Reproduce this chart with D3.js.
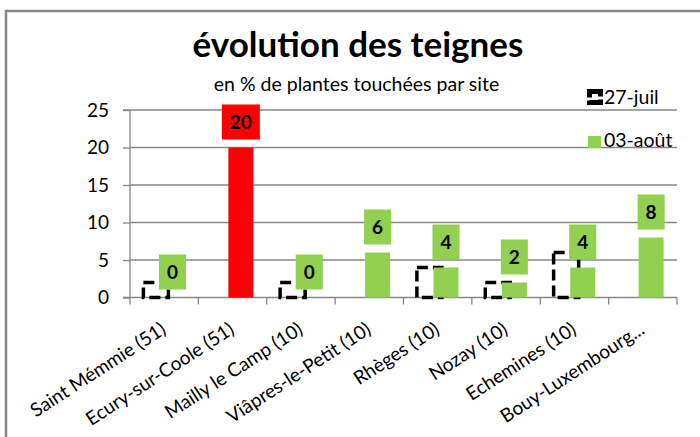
<!DOCTYPE html>
<html>
<head>
<meta charset="utf-8">
<script src="https://cdn.jsdelivr.net/npm/d3@7"></script>
<style>
    body { margin: 0; background: #fff; }
    svg { font-family: Lato, "Open Sans", sans-serif; }
</style>
</head>
<body>
<div class="chart"></div>
<script>
// Data
const sites = ['Saint Mémmie (51)', 'Ecury-sur-Coole (51)', 'Mailly le Camp (10)', 'Viâpres-le-Petit (10)',
    'Rhèges (10)', 'Nozay (10)', 'Echemines (10)', 'Bouy-Luxembourg...'];
const seriesNames = ['27-juil', '03-août'];
const juil = [2, 0, 2, 0, 4, 2, 6, 0];
const aout = [0, 20, 0, 6, 4, 2, 4, 8];
const highlight = [false, true, false, false, false, false, false, false];
const yTicks = [0, 5, 10, 15, 20, 25];

const width = 700;
const height = 437;
const plot = {left: 130, right: 677, top: 110, bottom: 297.5};
const green = '#92D050';
const red = '#FF0000';
const grid = '#878787';

const svg = d3.select('.chart')
    .append('svg')
    .attr('width', width)
    .attr('height', height);

// Frame
svg.append('rect')
    .attr('x', 6).attr('y', 11)
    .attr('width', 720).attr('height', 460)
    .attr('fill', 'none')
    .attr('stroke', '#888')
    .attr('stroke-width', 2.5);

// Scales
const x = d3.scaleBand()
    .domain(sites)
    .range([plot.left, plot.right])
    .padding(0);

const xs = d3.scalePoint()
    .domain(seriesNames)
    .range([-8.3, 8.3]);

const barW = 25;
const cx = (site, s) => x(site) + x.bandwidth() / 2 + xs(s);

const y = d3.scaleLinear()
    .domain([0, 25])
    .range([plot.bottom, plot.top]);

// Gridlines
svg.append('g')
    .selectAll('line')
    .data(yTicks.filter(d => d > 0))
    .join('line')
    .attr('x1', plot.left).attr('x2', plot.right)
    .attr('y1', d => y(d)).attr('y2', d => y(d))
    .attr('stroke', grid)
    .attr('stroke-width', 1.3);

// Y axis
const yAxis = svg.append('g')
    .attr('transform', `translate(${plot.left},0)`)
    .call(d3.axisLeft(y).tickValues(yTicks).tickSize(7).tickPadding(14));
yAxis.selectAll('path, line').attr('stroke', grid).attr('stroke-width', 1.3);
yAxis.select('.domain').attr('d', `M-7,${plot.top}H0V${plot.bottom}H-7`);
yAxis.selectAll('text')
    .attr('font-size', 19)
    .attr('font-family', 'Lato, sans-serif')
    .attr('fill', '#000');

// X axis (ticks at category boundaries)
const bounds = sites.map(s => x(s)).concat([plot.right]);
svg.append('line')
    .attr('x1', plot.left).attr('x2', plot.right)
    .attr('y1', plot.bottom).attr('y2', plot.bottom)
    .attr('stroke', grid).attr('stroke-width', 1.3);
svg.append('g')
    .selectAll('line')
    .data(bounds)
    .join('line')
    .attr('x1', d => d).attr('x2', d => d)
    .attr('y1', plot.bottom).attr('y2', plot.bottom + 7)
    .attr('stroke', grid).attr('stroke-width', 1.3);

// 27-juil bars (dashed outline)
svg.append('g')
    .selectAll('rect')
    .data(juil.map((v, i) => ({site: sites[i], v})).filter(d => d.v > 0))
    .join('rect')
    .attr('x', d => cx(d.site, '27-juil') - barW / 2)
    .attr('y', d => y(d.v))
    .attr('width', barW)
    .attr('height', d => y(0) - y(d.v))
    .attr('fill', 'none')
    .attr('stroke', '#000')
    .attr('stroke-width', 3.5)
    .attr('stroke-dasharray', '11,5');

// 03-août bars
const aoutData = aout.map((v, i) => ({site: sites[i], v, hl: highlight[i]}));
svg.append('g')
    .selectAll('rect')
    .data(aoutData)
    .join('rect')
    .attr('x', d => cx(d.site, '03-août') - barW / 2)
    .attr('y', d => y(d.v))
    .attr('width', barW)
    .attr('height', d => y(0) - y(d.v))
    .attr('fill', d => d.hl ? red : green);

// Data labels
const labels = svg.append('g')
    .selectAll('g')
    .data(aoutData)
    .join('g')
    .attr('transform', d => `translate(${cx(d.site, '03-août')},${y(d.v) - 8})`);
labels.append('rect')
    .attr('y', -35)
    .attr('height', 35)
    .attr('fill', d => d.hl ? red : green);
labels.append('text')
    .attr('y', -17.5)
    .attr('dy', '0.36em')
    .attr('text-anchor', 'middle')
    .attr('font-size', 19)
    .attr('font-weight', 'bold')
    .attr('fill', '#000')
    .text(d => d.v);
labels.each(function () {
    const g = d3.select(this);
    const w = g.select('text').node().getComputedTextLength() + 16;
    g.select('rect').attr('x', -w / 2).attr('width', w);
});

// X labels
svg.append('g')
    .selectAll('text')
    .data(sites)
    .join('text')
    .attr('transform', d => `translate(${x(d) + x.bandwidth() / 2 + 3},${plot.bottom + 35}) rotate(-33)`)
    .attr('text-anchor', 'end')
    .attr('font-size', 19)
    .attr('fill', '#000')
    .text(d => d);

// Title
svg.append('text')
    .attr('x', 358).attr('y', 57)
    .attr('text-anchor', 'middle')
    .attr('font-size', 35)
    .attr('font-weight', 'bold')
    .attr('fill', '#000')
    .text('évolution des teignes');
svg.append('text')
    .attr('x', 356.5).attr('y', 91)
    .attr('text-anchor', 'middle')
    .attr('font-size', 19.5)
    .attr('fill', '#000')
    .text('en % de plantes touchées par site');

// Legend
const legend = svg.append('g');
legend.append('rect')
    .attr('x', 589.5).attr('y', 91.5)
    .attr('width', 11).attr('height', 11)
    .attr('fill', 'none')
    .attr('stroke', '#000')
    .attr('stroke-width', 5)
    .attr('stroke-dasharray', '16,3');
legend.append('rect')
    .attr('x', 588).attr('y', 136)
    .attr('width', 13).attr('height', 12)
    .attr('fill', green);
legend.selectAll('text')
    .data(seriesNames)
    .join('text')
    .attr('x', 604)
    .attr('y', (d, i) => 104 + i * 43)
    .attr('font-size', 19.5)
    .attr('fill', '#000')
    .text(d => d);
</script>
</body>
</html>
